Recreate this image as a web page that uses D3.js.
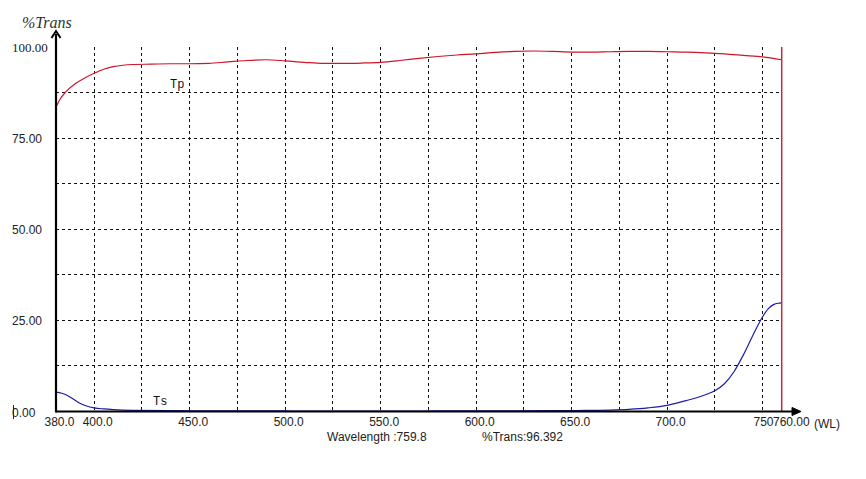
<!DOCTYPE html>
<html><head><meta charset="utf-8">
<script src="https://cdn.jsdelivr.net/npm/d3@7/dist/d3.min.js"></script>
<style>body{margin:0;background:#fff}svg{display:block}</style>
</head><body>
<svg id="c" width="866" height="479"></svg>
<script>
// ---- data ----
const wavelengths = [380,382,385,390,395,400,405,410,415,420,430,440,450,460,470,480,490,500,510,520,530,540,550,560,570,580,590,600,610,620,630,640,650,660,670,680,690,700,710,720,730,740,750,760];
const tpValues    = [83.5,85.6,87.6,89.9,91.5,92.8,93.9,94.6,95.0,95.2,95.3,95.4,95.4,95.5,95.9,96.3,96.5,96.2,95.8,95.5,95.5,95.6,95.8,96.3,96.9,97.4,97.8,98.1,98.5,98.8,98.9,98.8,98.6,98.6,98.7,98.8,98.8,98.7,98.6,98.4,98.1,97.7,97.3,96.5];
const tsWavelengths = [380,383,386,389,392,396,400,405,410,420,440,460,480,500,520,540,560,580,600,620,640,660,670,680,690,700,705,710,715,720,725,730,735,740,745,750,753,756,758,760];
const tsValues      = [5.3,5.0,4.4,3.4,2.4,1.5,1.0,0.7,0.5,0.3,0.25,0.2,0.2,0.15,0.1,0.1,0.1,0.15,0.15,0.2,0.25,0.3,0.4,0.6,1.0,1.7,2.3,3.0,3.7,4.6,5.7,7.6,10.9,15.6,21.0,26.0,28.2,29.4,29.7,29.8];
const xTickValues = [380,400,450,500,550,600,650,700,750];
const xTickLabels = ["380.0","400.0","450.0","500.0","550.0","600.0","650.0","700.0","750"];
const xGridValues = [400,425,450,475,500,525,550,575,600,625,650,675,700,725,750];
const yTickValues = [100,75,50,25,0];
const yTickLabels = ["100.00","75.00","50.00","25.00","0.00"];
const yGridValues = [87.5,75,62.5,50,37.5,25,12.5];
const cursorWL = 760;
const yTitle = "%Trans";
const xEndLabel = "760.00";
const xUnit = "(WL)";
const statusWL = "Wavelength :759.8";
const statusT = "%Trans:96.392";
const seriesNames = ["Tp","Ts"];

// ---- drawing ----
const svg = d3.select("#c");
const x = d3.scaleLinear().domain([380,760]).range([56,781.7]);
const y = d3.scaleLinear().domain([0,100]).range([411.5,47]);
const sans = "Liberation Sans, Arial, sans-serif";
const serif = "Liberation Serif, Times New Roman, serif";
const mono = "'Liberation Mono', 'Courier New', monospace";

// grid
svg.append("g").selectAll("line").data(xGridValues).join("line")
  .attr("x1",d=>x(d)).attr("x2",d=>x(d)).attr("y1",y(100)).attr("y2",y(0))
  .attr("stroke","#111").attr("stroke-width",1).attr("stroke-dasharray","3,3")
  .attr("shape-rendering","crispEdges");
svg.append("g").selectAll("line").data(yGridValues).join("line")
  .attr("x1",x(380)).attr("x2",x(cursorWL)).attr("y1",d=>y(d)).attr("y2",d=>y(d))
  .attr("stroke","#111").attr("stroke-width",1).attr("stroke-dasharray","3,3")
  .attr("shape-rendering","crispEdges");

// curves
const tpData = wavelengths.map((w,i)=>[w,tpValues[i]]);
const tsData = tsWavelengths.map((w,i)=>[w,tsValues[i]]);
const line = d3.line().x(d=>x(d[0])).y(d=>y(d[1])).curve(d3.curveMonotoneX);
svg.append("path").datum(tpData).attr("d",line).attr("fill","none")
  .attr("stroke","#d0142a").attr("stroke-width",1.2);
svg.append("path").datum(tsData).attr("d",line).attr("fill","none")
  .attr("stroke","#1c1ca8").attr("stroke-width",1.2);

// cursor line
svg.append("line").attr("x1",x(cursorWL)).attr("x2",x(cursorWL))
  .attr("y1",y(100)).attr("y2",y(0)).attr("stroke","#b83040").attr("stroke-width",1.5);

// axes
svg.append("line").attr("x1",x(380)).attr("x2",798).attr("y1",y(0)).attr("y2",y(0))
  .attr("stroke","#000").attr("stroke-width",2);
svg.append("line").attr("x1",x(380)).attr("x2",x(380)).attr("y1",y(0)+1).attr("y2",34)
  .attr("stroke","#000").attr("stroke-width",2.2);
svg.append("path").attr("d",`M${x(380)-4.5},38 L${x(380)},31 L${x(380)+4.5},38`)
  .attr("fill","none").attr("stroke","#000").attr("stroke-width",2);
svg.append("path").attr("d",`M792,${y(0)-4} L801,${y(0)} L792,${y(0)+4} Z`)
  .attr("fill","#000").attr("stroke","#000").attr("stroke-width",1);

// x tick labels
const xAxis = d3.axisBottom(x).tickValues(xTickValues).tickSize(0)
  .tickFormat(d=>xTickLabels[xTickValues.indexOf(d)]);
const gx = svg.append("g").attr("transform",`translate(3,${y(0)})`).call(xAxis);
gx.select(".domain").remove();
gx.selectAll("text").attr("font-family",sans).attr("font-size",12).attr("fill","#222").attr("dy","0.95em").attr("y",3);
gx.selectAll(".tick").filter(d=>d===750).select("text")
  .attr("text-anchor","end").attr("x",773-3-x(750));

// end label
svg.append("text").attr("x",773).attr("y",426).attr("font-family",sans)
  .attr("font-size",12).attr("fill","#222").text(xEndLabel);
svg.append("text").attr("x",814).attr("y",428).attr("font-family",sans)
  .attr("font-size",12).attr("fill","#222").text(xUnit);

// y tick labels
svg.append("g").selectAll("text").data(yTickValues).join("text")
  .attr("x",12).attr("y",d=>y(d)+5)
  .attr("font-family",(d,i)=>i===0?serif:sans)
  .attr("font-size",(d,i)=>i===0?13:12).attr("fill","#222")
  .text((d,i)=>yTickLabels[i]);
svg.append("line").attr("x1",13.5).attr("x2",13.5).attr("y1",405).attr("y2",419)
  .attr("stroke","#222").attr("stroke-width",1);

// title
svg.append("text").attr("x",22).attr("y",28).attr("font-family",serif)
  .attr("font-style","italic").attr("font-size",16).attr("fill","#333").text(yTitle);

// series labels
svg.append("text").attr("x",170).attr("y",88).attr("font-family",mono)
  .attr("font-size",12).attr("fill","#111").text(seriesNames[0]);
svg.append("text").attr("x",153).attr("y",405).attr("font-family",mono)
  .attr("font-size",12).attr("fill","#111").text(seriesNames[1]);

// status
svg.append("text").attr("x",327).attr("y",441).attr("font-family",sans)
  .attr("font-size",12).attr("fill","#222").text(statusWL);
svg.append("text").attr("x",482).attr("y",441).attr("font-family",sans)
  .attr("font-size",12).attr("fill","#222").text(statusT);
</script>
</body></html>
